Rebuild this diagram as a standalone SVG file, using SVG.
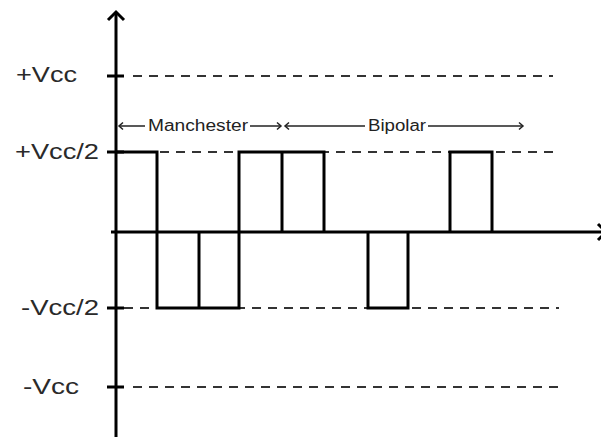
<svg xmlns="http://www.w3.org/2000/svg" width="601" height="437" viewBox="0 0 601 437">
  <style>
    .label { font-family: "Liberation Sans", Arial, sans-serif; font-size: 21.5px; fill: #2a2a2a; }
    .note { font-family: "Liberation Sans", Arial, sans-serif; font-size: 16px; fill: #222; }
    .axis { stroke: #000; stroke-width: 3; fill: none; }
    .tick { stroke: #000; stroke-width: 3; }
    .dash { stroke: #333; stroke-width: 2; stroke-dasharray: 9 7; fill: none; }
    .wave { stroke: #000; stroke-width: 3; fill: none; stroke-linejoin: miter; }
    .span { stroke: #222; stroke-width: 1.5; fill: none; }
  </style>
  <rect width="601" height="437" fill="#fff"/>

  <!-- level reference lines -->
  <g id="levels">
    <line class="dash" x1="133" y1="76" x2="553" y2="76"/>
    <line class="dash" x1="160" y1="152" x2="556" y2="152"/>
    <line class="dash" x1="124" y1="308" x2="559" y2="308"/>
    <line class="dash" x1="133" y1="387" x2="560" y2="387"/>
  </g>

  <!-- axes and ticks -->
  <g id="axes">
    <line class="axis" x1="116" y1="12" x2="116" y2="437"/>
    <polyline class="axis" points="108,20 116,12 124,20"/>
    <line class="axis" x1="111" y1="232" x2="606" y2="232"/>
    <polyline class="axis" points="598,224 606,232 598,240"/>
    <line class="tick" x1="107" y1="76" x2="124" y2="76"/>
    <line class="tick" x1="107" y1="152" x2="124" y2="152"/>
    <line class="tick" x1="107" y1="308" x2="124" y2="308"/>
    <line class="tick" x1="107" y1="387" x2="124" y2="387"/>
  </g>

  <!-- axis labels -->
  <g id="labels">
    <text class="label" x="16" y="82" textLength="61" lengthAdjust="spacingAndGlyphs">+Vcc</text>
    <text class="label" x="15" y="159" textLength="84" lengthAdjust="spacingAndGlyphs">+Vcc/2</text>
    <text class="label" x="21" y="315" textLength="78" lengthAdjust="spacingAndGlyphs">-Vcc/2</text>
    <text class="label" x="23" y="394" textLength="56" lengthAdjust="spacingAndGlyphs">-Vcc</text>
  </g>

  <!-- encoded signal -->
  <g id="signal">
    <path class="wave" d="M116,152 H157 V308 H239 V152 H324 V232 M368,232 V308 H408 V232 M450,232 V152 H492 V232"/>
    <line class="wave" x1="199" y1="232" x2="199" y2="308"/>
    <line class="wave" x1="282" y1="152" x2="282" y2="232"/>
  </g>

  <!-- span markers -->
  <g id="manchester">
    <line class="span" x1="119" y1="126" x2="145" y2="126"/>
    <polyline class="span" points="123,122.5 119,126 123,129.5"/>
    <text class="note" x="148" y="131" textLength="100" lengthAdjust="spacingAndGlyphs">Manchester</text>
    <line class="span" x1="250" y1="126" x2="281" y2="126"/>
    <polyline class="span" points="277,122.5 281,126 277,129.5"/>
  </g>
  <g id="bipolar">
    <line class="span" x1="285" y1="126" x2="365" y2="126"/>
    <polyline class="span" points="289,122.5 285,126 289,129.5"/>
    <text class="note" x="368" y="131" textLength="58" lengthAdjust="spacingAndGlyphs">Bipolar</text>
    <line class="span" x1="428" y1="126" x2="523" y2="126"/>
    <polyline class="span" points="519,122.5 523,126 519,129.5"/>
  </g>
</svg>
